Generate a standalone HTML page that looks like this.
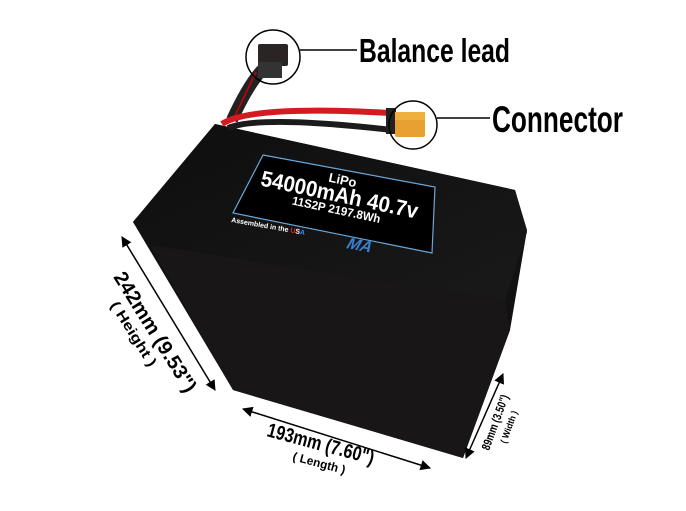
<!DOCTYPE html>
<html><head><style>
html,body{margin:0;padding:0;background:#fff;}
svg{display:block;}
.t{font-family:"Liberation Sans",sans-serif;font-weight:bold;fill:#000;}
</style></head><body>
<svg width="686" height="511" viewBox="0 0 686 511" xmlns="http://www.w3.org/2000/svg">
<defs>
<marker id="a" viewBox="0 0 10 10" refX="9" refY="5" markerWidth="7" markerHeight="7" orient="auto-start-reverse"><path d="M0,0 L10,5 L0,10 z" fill="#000"/></marker>
<linearGradient id="g1" x1="0" y1="0" x2="1" y2="1"><stop offset="0" stop-color="#0e0e0e"/><stop offset="1" stop-color="#191919"/></linearGradient>
</defs>
<polygon points="133,222 215,124 515,190 527,230 510,330 463,458 233,390" fill="#121212"/>
<polygon points="133,222 215,124 515,190 527,232 505,300 150,245" fill="url(#g1)"/>
<polygon points="150,245 505,300 510,330 463,458 233,390" fill="#181616"/>
<polygon points="263,155 435,187 432,253 233,213" fill="#000" stroke="#6aa7d8" stroke-width="1.2"/>
<g transform="translate(338,202) rotate(12)">
<text class="t" x="0" y="-18" font-size="13" text-anchor="middle" style="fill:#fff">LiPo</text>
<text class="t" x="-80" y="0" font-size="22" textLength="160" lengthAdjust="spacingAndGlyphs" style="fill:#fff">54000mAh 40.7v</text>
<text class="t" x="-45" y="12" font-size="12" textLength="90" lengthAdjust="spacingAndGlyphs" style="fill:#fff">11S2P 2197.8Wh</text>
</g>
<text class="t" transform="translate(231,222) rotate(10)" font-size="7" style="fill:#fff">Assembled in the <tspan style="fill:#e22">U</tspan><tspan>S</tspan><tspan style="fill:#38f">A</tspan></text>
<text class="t" transform="translate(345,248) rotate(10) skewX(-20)" font-size="16" style="fill:#3a7fd0">MA</text>
<path d="M232,120 Q248,85 262,70" stroke="#222" stroke-width="12" fill="none"/>
<path d="M232,122 L256,72" stroke="#c00" stroke-width="1.5" fill="none"/>
<path d="M222,124 Q250,105 390,113" stroke="#d41b22" stroke-width="6" fill="none"/>
<path d="M228,128 Q260,115 392,130" stroke="#1b1b1b" stroke-width="6" fill="none"/>
<rect x="386" y="108" width="10" height="26" fill="#222"/>
<rect x="395" y="112" width="30" height="25" rx="2" fill="#e8a033"/>
<rect x="395" y="112" width="30" height="8" fill="#f0b040"/>
<rect x="258" y="44" width="30" height="22" rx="2" fill="#2a2424"/>
<rect x="258" y="62" width="24" height="16" fill="#333"/>
<circle cx="273" cy="57" r="27" fill="none" stroke="#000" stroke-width="1.5"/>
<line x1="300" y1="50" x2="357" y2="50" stroke="#000" stroke-width="1.5"/>
<text class="t" x="359" y="62" font-size="33" textLength="151" lengthAdjust="spacingAndGlyphs">Balance lead</text>
<circle cx="413" cy="125" r="24" fill="none" stroke="#000" stroke-width="1.5"/>
<line x1="437" y1="118" x2="490" y2="118" stroke="#000" stroke-width="1.5"/>
<text class="t" x="492" y="132" font-size="37" textLength="131" lengthAdjust="spacingAndGlyphs">Connector</text>
<line x1="122" y1="237" x2="215" y2="390" stroke="#000" stroke-width="1.5" marker-start="url(#a)" marker-end="url(#a)"/>
<text class="t" transform="translate(113,277) rotate(58)" font-size="20" textLength="138" lengthAdjust="spacingAndGlyphs">242mm (9.53")</text>
<text class="t" transform="translate(110,305) rotate(58)" font-size="14" textLength="74" lengthAdjust="spacingAndGlyphs">( Height )</text>
<line x1="243" y1="409" x2="430" y2="468" stroke="#000" stroke-width="1.5" marker-start="url(#a)" marker-end="url(#a)"/>
<text class="t" transform="translate(266,436) rotate(15)" font-size="20" textLength="110" lengthAdjust="spacingAndGlyphs">193mm (7.60")</text>
<text class="t" transform="translate(292,460) rotate(15)" font-size="12" textLength="54" lengthAdjust="spacingAndGlyphs">( Length )</text>
<line x1="503" y1="374" x2="466" y2="458" stroke="#000" stroke-width="1.5" marker-start="url(#a)" marker-end="url(#a)"/>
<text class="t" transform="translate(489,451) rotate(-70)" font-size="12" textLength="58" lengthAdjust="spacingAndGlyphs">89mm (3.50")</text>
<text class="t" transform="translate(506,444) rotate(-70)" font-size="9" textLength="34" lengthAdjust="spacingAndGlyphs">( Width )</text>
</svg>
</body></html>
